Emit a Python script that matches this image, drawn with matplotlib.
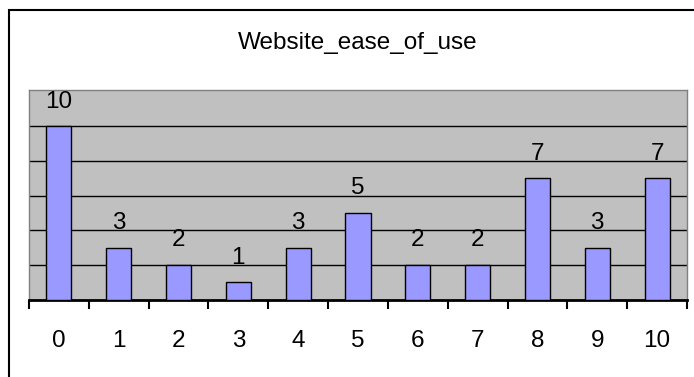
import numpy as np
import matplotlib
matplotlib.use("Agg")
import matplotlib.pyplot as plt
from matplotlib.patches import Rectangle

categories = ["0", "1", "2", "3", "4", "5", "6", "7", "8", "9", "10"]
counts = [10, 3, 2, 1, 3, 5, 2, 2, 7, 3, 7]
title = "Website_ease_of_use"

plt.rcParams["font.family"] = ["Liberation Sans", "DejaVu Sans"]

W, H = 694, 377
fig = plt.figure(figsize=(W / 100, H / 100), dpi=100)

# plot area in pixels: left 29, right 687, top 90, bottom 299.5
ax = fig.add_axes([29 / W, (H - 299.5) / H, (687 - 29) / W, (299.5 - 90) / H])
ax.set_facecolor("#C0C0C0")

x = np.arange(len(categories))
ax.set_axisbelow(True)
ax.yaxis.grid(True, color="black", linewidth=1.0)
bars = ax.bar(x, counts, width=0.42, color="#9999FF", edgecolor="black", linewidth=1.0, zorder=3)

for xi, v in zip(x, counts):
    ax.annotate(str(v), (xi, v), xytext=(0, 13.3), textcoords="offset points",
                ha="center", va="baseline", fontsize=17.5, color="black")

ax.set_xlim(-0.5, len(categories) - 0.5)
ax.set_ylim(0, 12.1)
ax.set_yticks([2, 4, 6, 8, 10])
ax.tick_params(axis="y", left=False, labelleft=False)

ax.set_xticks(x)
ax.set_xticklabels(categories, fontsize=17.5)
ax.set_xticks(np.arange(-0.5, len(categories)), minor=True)
ax.tick_params(axis="x", which="major", length=0, pad=22)
ax.tick_params(axis="x", which="minor", length=6.5, width=1.5, direction="out", color="black")

for side in ["top", "right", "left"]:
    ax.spines[side].set_color("#808080")
    ax.spines[side].set_linewidth(1.0)
ax.spines["bottom"].set_color("black")
ax.spines["bottom"].set_linewidth(2.0)

fig.text(358 / W, (H - 49.3) / H, title, ha="center", va="baseline", fontsize=17.5)

# outer chart frame (only top and left edges fall inside the image)
fig.patches.append(Rectangle((8.5 / W, -0.1), 1.2, (H - 10) / H + 0.1,
                             transform=fig.transFigure, fill=False,
                             edgecolor="black", linewidth=1.5))

fig.savefig("out.png", dpi=100)
